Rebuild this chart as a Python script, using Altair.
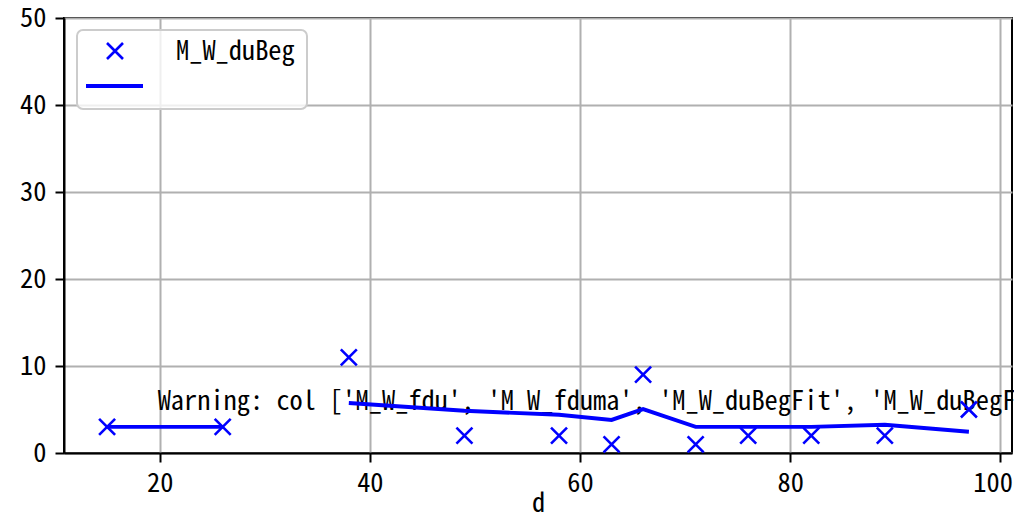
import altair as alt
import pandas as pd

# ---- data ----
d = [15, 26, 38, 49, 58, 63, 66, 71, 76, 82, 89, 97]
du_beg = [3, 3, 11, 2, 2, 1, 9, 1, 2, 2, 2, 5]
du_beg_fit = [3, 3, 5.75, 4.85, 4.4, 3.8, 5.05, 3.0, 3.0, 3.0, 3.25, 2.45]
fit_segment = [0, 0, 1, 1, 1, 1, 1, 1, 1, 1, 1, 1]
x_ticks = [20, 40, 60, 80, 100]
y_ticks = [0, 10, 20, 30, 40, 50]
x_domain = [10.9, 101.1]
y_domain = [0, 50]
legend_label = ["M_W_duBeg"]
warning_x = [20]
warning_y = [5]
warning_text = ["Warning: col ['M_W_fdu', 'M_W_fduma', 'M_W_duBegFit', 'M_W_duBegF"]

FONT = "'Noto Sans Mono CJK SC', 'Liberation Mono', monospace"
FS = 26.4
BLUE = "#0000ff"

df = pd.DataFrame({"d": d, "duBeg": du_beg, "fit": du_beg_fit, "seg": fit_segment})
wdf = pd.DataFrame({"x": warning_x, "y": warning_y, "t": warning_text})
ldf = pd.DataFrame({"label": legend_label})

xs = alt.Scale(domain=x_domain, nice=False, zero=False)
ys = alt.Scale(domain=y_domain, nice=False, zero=False)

x_axis = alt.Axis(
    values=x_ticks, title="d", grid=True, labelPadding=8, titlePadding=-6,
    labelFlush=12, labelFlushOffset=12,
)
y_axis = alt.Axis(values=y_ticks, title=None, grid=True, labelPadding=9)

base = alt.Chart(df)

points = base.mark_point(
    shape="M-1,-1L1,1M-1,1L1,-1", size=256, filled=False,
    stroke=BLUE, strokeWidth=2.6, opacity=1,
).encode(
    x=alt.X("d:Q", scale=xs, axis=x_axis),
    y=alt.Y("duBeg:Q", scale=ys, axis=y_axis),
)

line = base.mark_line(color=BLUE, strokeWidth=3.9).encode(
    x=alt.X("d:Q", scale=xs),
    y=alt.Y("fit:Q", scale=ys),
    detail="seg:N",
)

warning = alt.Chart(wdf).mark_text(
    align="left", baseline="alphabetic", font=FONT, fontSize=FS, color="black", dx=-2,
).encode(
    x=alt.X("x:Q", scale=xs),
    y=alt.Y("y:Q", scale=ys),
    text="t:N",
)

# legend (drawn as decoration, matplotlib style)
leg_box = alt.Chart(ldf).mark_rect(
    fill="white", fillOpacity=0.8, stroke="#cccccc", strokeWidth=2, cornerRadius=6,
).encode(x=alt.value(13), x2=alt.value(243), y=alt.value(12), y2=alt.value(91))

leg_mark = alt.Chart(ldf).mark_point(
    shape="M-1,-1L1,1M-1,1L1,-1", size=256, filled=False,
    stroke=BLUE, strokeWidth=2.6, opacity=1,
).encode(x=alt.value(51), y=alt.value(33))

leg_line = alt.Chart(ldf).mark_rule(color=BLUE, strokeWidth=3.9).encode(
    x=alt.value(22), x2=alt.value(79), y=alt.value(68)
)

leg_text = alt.Chart(ldf).mark_text(
    align="left", baseline="middle", font=FONT, fontSize=FS, color="black",
).encode(x=alt.value(112), y=alt.value(34), text="label:N")

chart = alt.layer(
    warning, line, points, leg_box, leg_mark, leg_line, leg_text
).properties(
    width=948, height=435,
    autosize=alt.AutoSizeParams(type="none"),
    padding={"left": 56, "top": 10, "right": 2, "bottom": 61},
    background="white",
).configure_view(
    stroke="black", strokeWidth=2,
).configure_axis(
    domainColor="black", domainWidth=2,
    tickColor="black", tickWidth=2, tickSize=9,
    labelFont=FONT, labelFontSize=FS, labelColor="black",
    titleFont=FONT, titleFontSize=FS, titleFontWeight="normal", titleColor="black",
    gridColor="#b0b0b0", gridWidth=2,
)

chart.save("out.html", embed_options={"renderer": "svg", "actions": False})
